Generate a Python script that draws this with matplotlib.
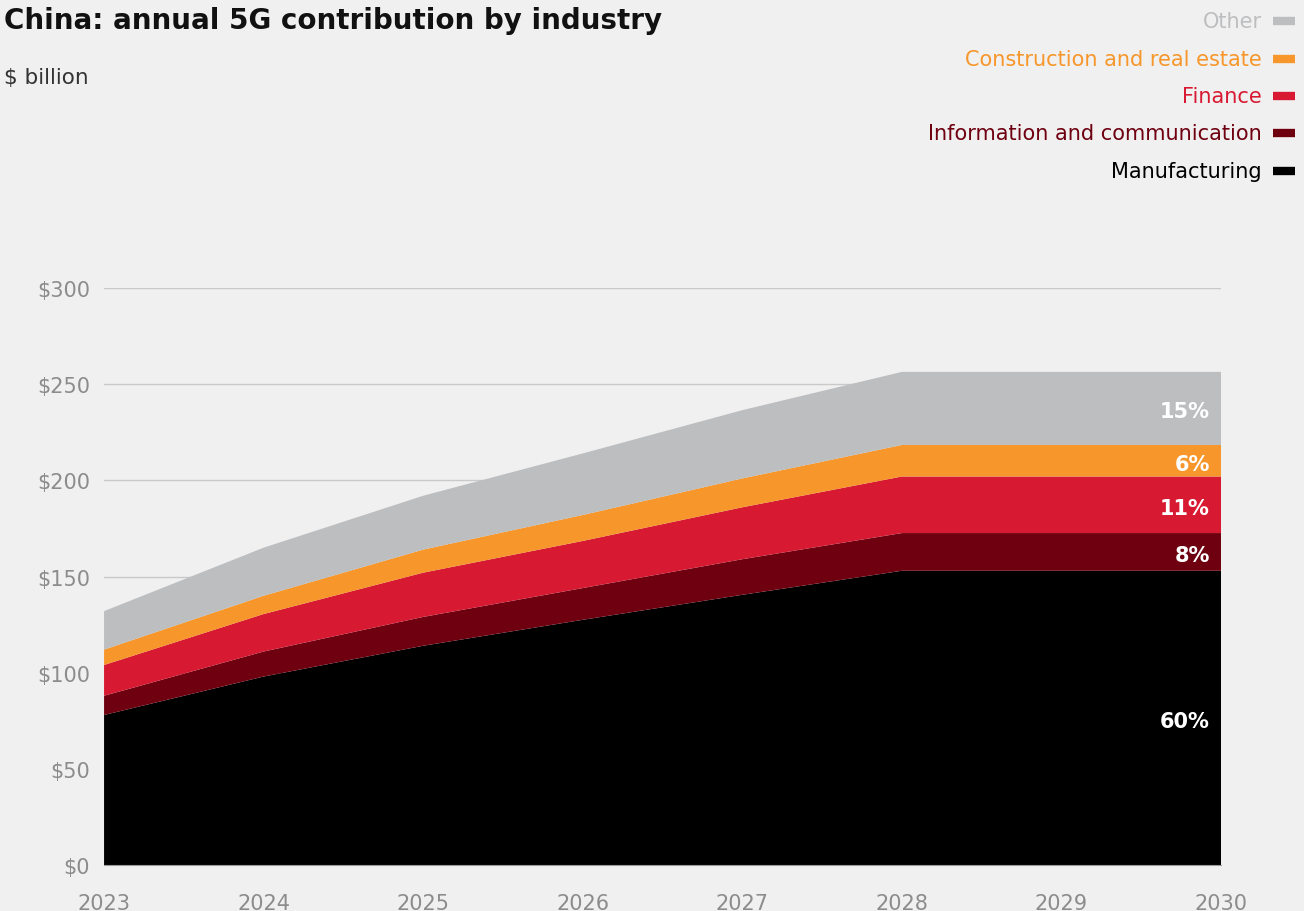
import matplotlib
matplotlib.use("Agg")
import matplotlib.pyplot as plt
import numpy as np

years = [2023, 2024, 2025, 2026, 2027, 2028, 2029, 2030]
manufacturing = [78, 98, 114, 127.5, 140.5, 153, 153, 153]
info_comm = [10, 13, 15, 16.5, 18.5, 19.6, 19.6, 19.6]
finance = [16, 19.5, 23, 24.5, 27, 29.4, 29.4, 29.4]
construction = [8, 9.5, 12, 13.5, 15, 16.4, 16.4, 16.4]
other = [20, 25, 28, 32, 35.5, 38, 38, 38]

series_names = ["Manufacturing", "Information and communication", "Finance",
                "Construction and real estate", "Other"]
share_labels = ["60%", "8%", "11%", "6%", "15%"]
y_ticks = [0, 50, 100, 150, 200, 250, 300]
y_tick_labels = ["$0", "$50", "$100", "$150", "$200", "$250", "$300"]

colors = ["#000000", "#6E0010", "#D71932", "#F7962A", "#BDBEC0"]
bg = "#F0F0F0"

plt.rcParams['font.family'] = ['DejaVu Sans']

fig = plt.figure(figsize=(13.04, 9.12), dpi=100, facecolor=bg)
ax = fig.add_axes([0.0798, 0.0504, 0.8566, 0.6327], facecolor=bg)

data = [manufacturing, info_comm, finance, construction, other]
ax.stackplot(years, *data, colors=colors, linewidth=0, zorder=3)

ax.set_xlim(2023, 2030)
ax.set_ylim(0, 300)
ax.set_yticks(y_ticks)
ax.set_yticklabels(y_tick_labels)
ax.set_xticks(years)
ax.set_xticklabels([str(y) for y in years])
ax.grid(axis='y', color='#C9C9C9', linewidth=1, zorder=1)
ax.grid(axis='x', visible=False)
for s in ['top', 'right', 'left']:
    ax.spines[s].set_visible(False)
ax.spines['bottom'].set_color('#9A9A9A')
ax.spines['bottom'].set_zorder(4)
ax.tick_params(axis='both', length=0, colors='#8C8C8C', labelsize=15)
ax.tick_params(axis='y', pad=10)
ax.tick_params(axis='x', pad=20)

# share labels at 2030
cum = np.cumsum(np.array(data), axis=0)
bottoms = np.vstack([np.zeros(len(years)), cum[:-1]])
for i, lab in enumerate(share_labels):
    mid = (bottoms[i][-1] + cum[i][-1]) / 2 - 1.5
    ax.text(2029.93, mid, lab, ha='right', va='center', color='white',
            fontsize=15, fontweight='bold', zorder=5)

# title / subtitle
fig.text(0.003, 0.977, "China: annual 5G contribution by industry", ha='left',
         va='center', fontsize=20, fontweight='bold', color='#111111')
fig.text(0.003, 0.914, "$ billion", ha='left', va='center', fontsize=15.5,
         color='#333333')

# legend (right aligned, top right)
leg_y = [22, 60, 97, 134, 172]
order = [4, 3, 2, 1, 0]
for row, idx in enumerate(order):
    yf = 1 - leg_y[row] / 912
    fig.text(1262 / 1304, yf, series_names[idx], ha='right', va='center',
             fontsize=15, color=colors[idx])
    fig.add_artist(plt.Line2D([1273 / 1304, 1295 / 1304], [yf, yf],
                              transform=fig.transFigure, color=colors[idx],
                              linewidth=6, solid_capstyle='butt'))

fig.savefig("out.png", dpi=100, facecolor=bg)
